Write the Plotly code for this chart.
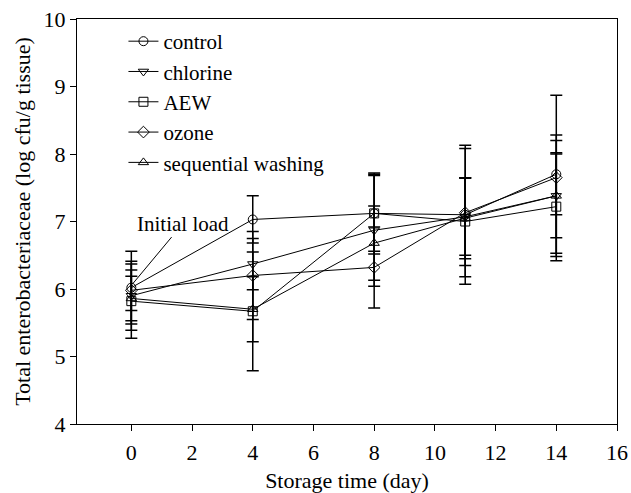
import plotly.graph_objects as go

days = [0, 4, 8, 11, 14]

series_names = ["control", "chlorine", "AEW", "ozone", "sequential washing"]
control = [6.02, 7.03, 7.12, 7.10, 7.70]
control_err = [0.54, 0.35, 0.60, 1.03, 1.17]
chlorine = [5.90, 6.37, 6.87, 7.07, 7.38]
chlorine_err = [0.51, 0.38, 0.83, 0.57, 0.62]
aew = [5.82, 5.67, 7.12, 7.00, 7.22]
aew_err = [0.55, 0.88, 0.56, 0.65, 0.80]
ozone = [5.98, 6.20, 6.32, 7.13, 7.65]
ozone_err = [0.30, 0.65, 0.60, 0.95, 0.55]
seq = [5.86, 5.70, 6.68, 7.05, 7.38]
seq_err = [0.33, 0.48, 0.55, 0.60, 0.90]

x_ticks = [0, 2, 4, 6, 8, 10, 12, 14, 16]
y_ticks = [4, 5, 6, 7, 8, 9, 10]

values = [control, chlorine, aew, ozone, seq]
errors = [control_err, chlorine_err, aew_err, ozone_err, seq_err]
symbols = ["circle-open", "triangle-down-open", "square-open", "diamond-open", "triangle-up-open"]

FONT = "Liberation Serif, Times New Roman, serif"

fig = go.Figure()
for name, v, e, s in zip(series_names, values, errors, symbols):
    fig.add_trace(go.Scatter(
        x=days, y=v, name=name, mode="lines+markers",
        line=dict(color="black", width=1),
        marker=dict(symbol=s, size=9, color="black", line=dict(width=1, color="black")),
        error_y=dict(type="data", array=e, visible=True, color="black", thickness=1.5, width=6),
    ))

fig.add_annotation(
    x=0.05, y=6.08, xref="x", yref="y",
    text="Initial load", showarrow=True, arrowhead=0, arrowwidth=1, arrowcolor="black",
    ax=50, ay=-60, font=dict(family=FONT, size=21, color="black"),
)

fig.update_layout(
    width=631, height=493,
    margin=dict(l=77, r=14, t=19, b=69, autoexpand=False),
    paper_bgcolor="white", plot_bgcolor="white",
    font=dict(family=FONT, size=22, color="black"),
    showlegend=True,
    legend=dict(x=0.086, y=0.995, xanchor="left", yanchor="top",
                bgcolor="rgba(0,0,0,0)", font=dict(family=FONT, size=21, color="black"),
                tracegroupgap=0),
    xaxis=dict(range=[-1.79, 16], tickvals=x_ticks, ticks="outside", ticklen=6, tickwidth=1,
               tickcolor="black", showline=True, linecolor="black", linewidth=1, mirror=True,
               showgrid=False, zeroline=False, ticklabelstandoff=3, automargin=False,
               title=dict(text="Storage time (day)", font=dict(size=22), standoff=9)),
    yaxis=dict(range=[4, 10], tickvals=y_ticks, ticks="outside", ticklen=6, tickwidth=1,
               tickcolor="black", showline=True, linecolor="black", linewidth=1, mirror=True,
               showgrid=False, zeroline=False, automargin=False,
               title=dict(text="Total enterobacteriaceae (log cfu/g tissue)", font=dict(size=22), standoff=6)),
)

fig.write_html("out.html", config={"displayModeBar": False},
               post_script="document.body.style.margin='0';document.body.style.overflow='hidden';")
